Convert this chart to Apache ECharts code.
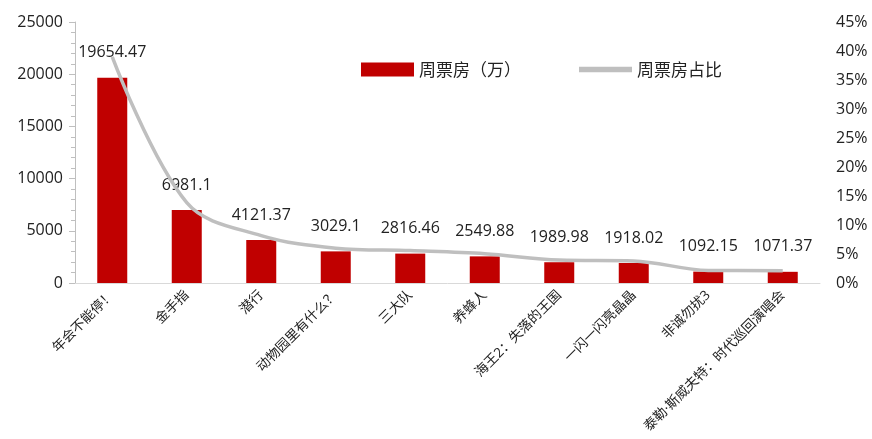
<!DOCTYPE html>
<html><head><meta charset="utf-8">
<script src="https://cdn.jsdelivr.net/npm/echarts@6/dist/echarts.min.js"></script>
<style>html,body{margin:0;padding:0;background:#fff}#c{width:872px;height:439px}</style>
</head><body><div id="c"></div>
<script>
const categories = ['年会不能停！','金手指','潜行','动物园里有什么？','三大队','养蜂人','海王2：失落的王国','一闪一闪亮晶晶','非诚勿扰3','泰勒·斯威夫特：时代巡回演唱会'];
const boxOffice = [19654.47, 6981.1, 4121.37, 3029.1, 2816.46, 2549.88, 1989.98, 1918.02, 1092.15, 1071.37];
const sharePct = [39.0, 13.85, 8.18, 6.01, 5.59, 5.06, 3.95, 3.81, 2.17, 2.13];
const leftTicks = [0, 5000, 10000, 15000, 20000, 25000];

const font = '"Open Sans", "Noto Sans CJK SC", sans-serif';
const cjk = '"Noto Sans CJK SC", sans-serif';
const chart = echarts.init(document.getElementById('c'));
chart.setOption({
  animation: false,
  textStyle: {fontFamily: font},
  grid: {left: 75, right: 52, top: 22, bottom: 156, containLabel: false},
  legend: {
    top: 56, left: 356, itemGap: 58, itemWidth: 53, itemHeight: 14,
    textStyle: {fontSize: 17, color: '#222', fontFamily: cjk},
    data: [{name: '周票房（万）', icon: 'rect'}, {name: '周票房占比', icon: 'path://M0,0H10V1H0Z'}]
  },
  xAxis: {
    type: 'category', data: categories,
    axisLine: {lineStyle: {color: '#D9D9D9', width: 1}},
    axisTick: {show: false},
    axisLabel: {rotate: 45, fontSize: 13.5, color: '#222', interval: 0, margin: 10, fontFamily: font}
  },
  yAxis: [{
    type: 'value', min: leftTicks[0], max: leftTicks[leftTicks.length-1], interval: 5000,
    axisLine: {show: true, lineStyle: {color: '#BFBFBF'}},
    axisTick: {show: true, length: 6, lineStyle: {color: '#BFBFBF'}},
    minorTick: {show: true, splitNumber: 5, length: 4, lineStyle: {color: '#BFBFBF'}},
    splitLine: {show: false},
    axisLabel: {fontSize: 16, color: '#222', margin: 12, fontFamily: font, formatter: v => String(v)}
  }, {
    type: 'value', min: 0, max: 45, interval: 5,
    axisLine: {show: false}, axisTick: {show: false}, splitLine: {show: false},
    axisLabel: {fontSize: 16, color: '#222', margin: 16, formatter: v => v + '%', fontFamily: font}
  }],
  series: [{
    name: '周票房（万）', type: 'bar', data: boxOffice, barWidth: 30,
    itemStyle: {color: '#C00000'},
    label: {show: true, position: 'top', distance: 17, fontSize: 16, color: '#222', fontFamily: font}
  }, {
    name: '周票房占比', type: 'line', yAxisIndex: 1, data: sharePct, smooth: 0.35,
    showSymbol: false, symbol: 'none', z: 5,
    lineStyle: {color: '#BFBFBF', width: 3.5}, itemStyle: {color: '#BFBFBF'}
  }]
});
</script></body></html>
